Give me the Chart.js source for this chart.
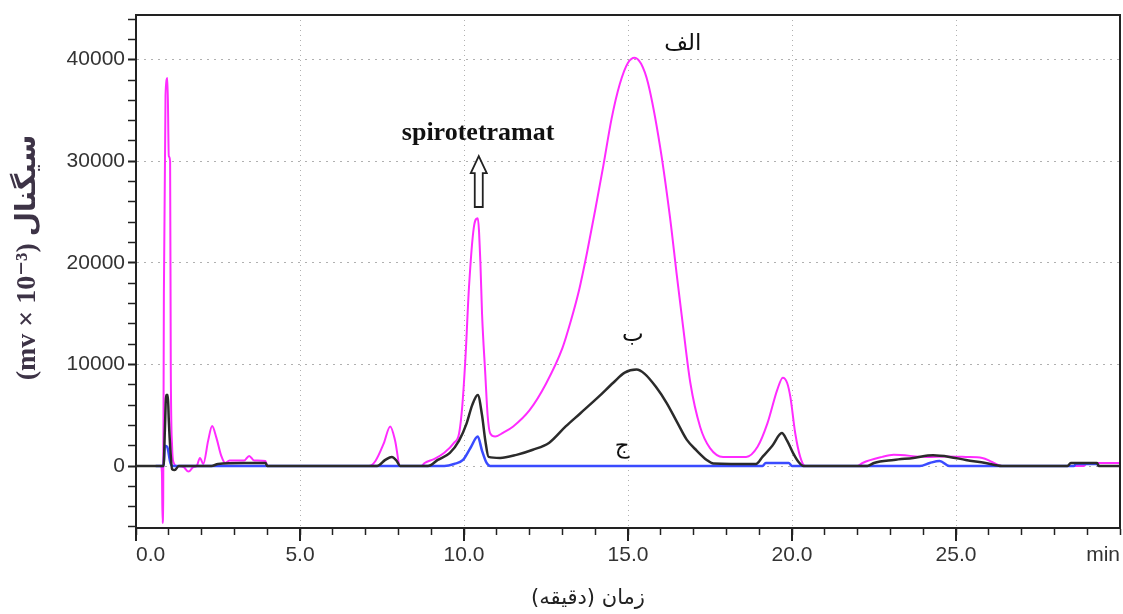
<!DOCTYPE html>
<html lang="fa">
<head>
  <meta charset="UTF-8">
  <title>Spirotetramat chromatogram</title>
  <script src="https://cdn.jsdelivr.net/npm/chart.js"></script>
  <style>
    body {
      margin: 0;
      background: #fff;
    }
    .chart-box {
      width: 1123px;
      height: 614px;
      position: relative;
    }
  </style>
</head>
<body>

<div class="chart-box"><canvas id="chrom"></canvas></div>

<script>
  // retention time (min) / signal (mV x 10^-3)
  const timeA = [0.62, 0.76, 0.79, 0.81, 0.83, 0.85, 0.9, 0.96, 1.0, 1.04, 1.06, 1.1, 1.15, 1.25, 1.45, 1.6, 1.75, 1.85, 1.95, 2.05, 2.2, 2.32, 2.45, 2.6, 2.72, 2.85, 3.3, 3.45, 3.6, 3.95, 4.0,
    7.1, 7.3, 7.55, 7.75, 7.9, 8.05, 8.7, 8.8, 9.1, 9.4, 9.7, 9.85, 9.95, 10.05, 10.15, 10.3, 10.42, 10.5, 10.55, 10.65, 10.72, 10.8, 10.95, 11.2, 11.5, 12.0, 12.5, 13.0, 13.25, 13.5, 13.75, 14.0, 14.25, 14.5, 14.75, 15.0, 15.2, 15.4, 15.61, 15.98, 16.28, 16.48, 16.68, 16.9, 17.2, 17.5, 17.9, 18.6, 18.95, 19.25, 19.55, 19.72, 19.85, 19.95, 20.1, 20.25, 20.4,
    22.0, 22.15, 22.75, 23.1, 24.1, 24.7, 25.3, 25.8, 26.1, 26.4, 28.9, 29.0, 30.0];
  const signalA = [0, 0, -600, -5600, -3000, 17000, 36500, 38200, 30500, 30000, 10000, 2000, 300, 0, -100, -550, -100, 0, 800, 200, 2500, 3950, 2800, 1000, 300, 550, 550, 1000, 550, 500, 0,
    0, 500, 2200, 3900, 2500, 0, 0, 300, 700, 1300, 2300, 3200, 6000, 11000, 17500, 23500, 24400, 20000, 15000, 9000, 5000, 3200, 2900, 3300, 3900, 5500, 8100, 11600, 14200, 17200, 21000, 25200, 29600, 34200, 37600, 39700, 40200, 39600, 37700, 31400, 24500, 19000, 13700, 8200, 3850, 1770, 900, 900, 1900, 4200, 7500, 8700, 8200, 6800, 3200, 900, 0,
    0, 300, 900, 1100, 900, 950, 900, 800, 400, 0, 0, 300, 300];

  const timeB = [0, 0.84, 0.88, 0.92, 0.97, 1.0, 1.05, 1.1, 1.18, 1.3, 2.3, 2.5, 3.3, 3.95, 4.0, 7.35, 7.6, 7.8, 7.95, 8.05, 8.9, 9.2, 9.57, 9.85, 10.08, 10.25, 10.42, 10.55, 10.65, 10.75, 11.1, 11.6, 12.1, 12.6, 13.1, 13.55, 14.1, 14.55, 14.9, 15.26, 15.5, 15.85, 16.18, 16.5, 16.79, 17.1, 17.4, 17.6, 18.9, 19.1, 19.4, 19.69, 19.85, 20.03, 20.2, 20.35,
    22.3, 22.5, 23.1, 23.7, 24.3, 24.8, 25.3, 25.9, 26.4, 28.4, 28.5, 29.3, 29.35, 30.0];
  const signalB = [0, 0, 3500, 7000, 7000, 4500, 1500, -300, -400, 0, 0, 200, 300, 300, 0, 0, 600, 900, 500, 0, 0, 600, 1300, 2500, 4200, 6000, 7000, 5000, 2500, 900, 800, 1100, 1600, 2300, 3900, 5200, 6800, 8200, 9200, 9500, 9100, 7800, 6200, 4300, 2600, 1500, 600, 250, 200, 900, 2000, 3250, 2500, 1300, 400, 0,
    0, 300, 600, 800, 1050, 900, 600, 300, 0, 0, 300, 300, 0, 0];

  const timeC = [0.6, 0.84, 0.88, 0.95, 1.05, 1.12, 9.4, 9.7, 9.97, 10.2, 10.42, 10.55, 10.69, 10.8, 19.1, 19.2, 19.9, 20.0, 20.3,
    23.9, 24.2, 24.5, 24.8, 28.6, 28.65, 29.3, 29.35];
  const signalC = [0, 0, 2000, 1900, 300, 0, 0, 200, 600, 1800, 2900, 1500, 300, 0, 0, 300, 300, 0, 0,
    0, 300, 500, 0, 0, 200, 200, 0];

  const xTicks = Array.from({length: 31}, (_, i) => i);
  const yTicks = Array.from({length: 26}, (_, i) => -6000 + i * 2000);

  // text labels placed in data units
  const noteText = ['spirotetramat', 'الف', 'ب', 'ج'];
  const noteTime = [10.43, 16.67, 15.15, 14.82];
  const noteSignal = [32800, 41500, 12900, 1900];

  const toPoints = (t, s) => t.map((x, i) => ({x: x, y: s[i]}));

  const frameAndNotes = {
    id: 'frameAndNotes',
    afterDraw(chart) {
      const {ctx, chartArea: a, scales: {x, y}} = chart;
      ctx.save();
      // top and right frame
      ctx.strokeStyle = '#222';
      ctx.lineWidth = 2;
      ctx.beginPath();
      ctx.moveTo(a.left, a.top);
      ctx.lineTo(a.right, a.top);
      ctx.lineTo(a.right, a.bottom);
      ctx.stroke();

      // longer tick marks at the labelled values
      ctx.beginPath();
      [0, 5, 10, 15, 20, 25].forEach(v => {
        const px = x.getPixelForValue(v);
        ctx.moveTo(px, a.bottom);
        ctx.lineTo(px, a.bottom + 13);
      });
      ctx.stroke();

      ctx.fillStyle = '#111';
      ctx.textAlign = 'center';
      ctx.textBaseline = 'middle';
      noteText.forEach((txt, i) => {
        ctx.font = i === 0 ? 'bold 26px "Liberation Serif", serif' : '23px "DejaVu Sans", serif';
        ctx.direction = i === 0 ? 'ltr' : 'rtl';
        ctx.fillText(txt, x.getPixelForValue(noteTime[i]), y.getPixelForValue(noteSignal[i]));
      });

      // hollow arrow under the spirotetramat label
      const ax = x.getPixelForValue(10.45);
      const tip = y.getPixelForValue(30500);
      const base = y.getPixelForValue(25500);
      ctx.lineWidth = 1.8;
      ctx.beginPath();
      ctx.moveTo(ax, tip);
      ctx.lineTo(ax + 8, tip + 17);
      ctx.lineTo(ax + 4, tip + 17);
      ctx.lineTo(ax + 4, base);
      ctx.lineTo(ax - 4, base);
      ctx.lineTo(ax - 4, tip + 17);
      ctx.lineTo(ax - 8, tip + 17);
      ctx.closePath();
      ctx.stroke();

      // x axis title
      ctx.direction = 'rtl';
      ctx.font = '21px "DejaVu Sans", sans-serif';
      ctx.fillStyle = '#222';
      ctx.fillText('زمان (دقیقه)', 588, 599);
      ctx.restore();
    }
  };

  new Chart(document.getElementById('chrom'), {
    type: 'line',
    data: {
      datasets: [
        {
          label: 'ب',
          data: toPoints(timeB, signalB),
          borderColor: '#2b2b2b',
          borderWidth: 2.5
        },
        {
          label: 'ج',
          data: toPoints(timeC, signalC),
          borderColor: '#3a4bff',
          borderWidth: 2.5
        },
        {
          label: 'الف',
          data: toPoints(timeA, signalA),
          borderColor: '#ff2bff',
          borderWidth: 2
        }
      ]
    },
    options: {
      responsive: true,
      maintainAspectRatio: false,
      animation: false,
      elements: {
        point: { radius: 0 },
        line: { cubicInterpolationMode: 'monotone' }
      },
      layout: { padding: { top: 15, right: 3, left: 0, bottom: 0 } },
      plugins: {
        legend: { display: false },
        tooltip: { enabled: false }
      },
      scales: {
        x: {
          type: 'linear',
          min: 0,
          max: 30,
          afterBuildTicks: (scale) => { scale.ticks = xTicks.map(v => ({value: v})); },
          afterFit: (scale) => {
            scale.height = 86;
            scale.paddingLeft = 0;
            scale.paddingRight = 0;
          },
          border: { display: true, color: '#222', width: 2, dash: [1, 4] },
          grid: {
            color: (c) => (c.tick && c.tick.value % 5 === 0 && c.tick.value > 0 && c.tick.value < 30) ? '#b0b0b0' : 'rgba(0,0,0,0)',
            tickColor: '#222',
            tickWidth: 1.5,
            tickLength: 7
          },
          ticks: {
            autoSkip: false,
            maxRotation: 0,
            align: 'inner',
            padding: 8,
            color: '#333',
            font: { family: '"Liberation Sans", Arial, sans-serif', size: 21 },
            callback: (v) => v % 5 === 0 ? (v === 30 ? 'min' : v.toFixed(1)) : ''
          }
        },
        y: {
          min: -6100,
          max: 44400,
          afterBuildTicks: (scale) => { scale.ticks = yTicks.map(v => ({value: v})); },
          afterFit: (scale) => {
            scale.width = 136;
            scale.paddingTop = 0;
            scale.paddingBottom = 0;
          },
          border: { display: true, color: '#222', width: 2, dash: [2, 5] },
          grid: {
            color: (c) => (c.tick && c.tick.value % 10000 === 0) ? '#b0b0b0' : 'rgba(0,0,0,0)',
            tickColor: '#222',
            tickWidth: (c) => (c.tick && c.tick.value % 10000 === 0) ? 2 : 1.5,
            tickLength: 8
          },
          ticks: {
            autoSkip: false,
            padding: 3,
            color: '#333',
            font: { family: '"Liberation Sans", Arial, sans-serif', size: 21 },
            callback: (v) => v % 10000 === 0 ? String(v) : ''
          },
          title: {
            display: true,
            // a leading space lifts the rotated title a little, as in the original
            text: '\u2003(mv × 10⁻³) سیگنال',
            color: '#3d3346',
            padding: { top: 11, bottom: 0 },
            font: { family: '"Liberation Serif", "DejaVu Sans", serif', size: 28, weight: 'bold' }
          }
        }
      }
    },
    plugins: [frameAndNotes]
  });
</script>

</body>
</html>
